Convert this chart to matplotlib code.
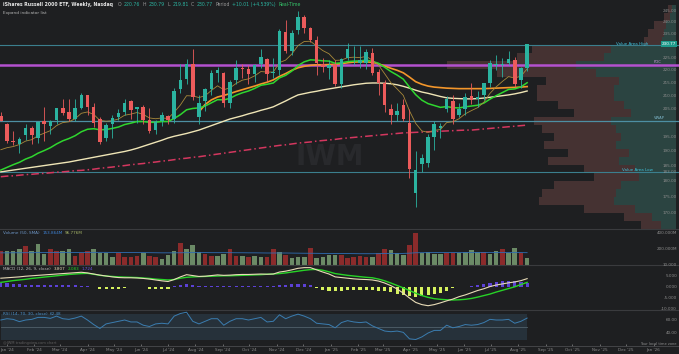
import matplotlib
matplotlib.use("Agg")
import matplotlib.pyplot as plt
import matplotlib.dates as mdates
from matplotlib.transforms import blended_transform_factory
import pandas as pd

W, H = 679, 354
BG = "#1e1f21"
UP = "#2bb3a0"
DOWN = "#ec5b5b"

# weekly candles, Dec 25 2023 .. Aug 11 2025
weeks = pd.date_range("2023-12-25", periods=86, freq="7D")

opens = [202.5, 199.5, 193.5, 192.5, 195.5, 198.0, 194.5, 200.5, 199.0, 201.0,
         205.3, 204.0, 201.5, 205.5, 210.3, 206.0, 201.5, 194.5, 199.5, 202.0,
         204.0, 208.0, 205.0, 206.0, 201.0, 197.5, 200.5, 202.5, 201.5, 212.5,
         216.5, 222.5, 202.0, 208.0, 212.5, 219.0, 219.0, 207.5, 216.0, 221.0,
         220.5, 218.5, 222.5, 224.5, 219.0, 220.0, 236.0, 228.0, 236.5, 242.5,
         237.5, 232.5, 222.5, 221.0, 222.5, 214.5, 225.0, 226.0, 223.0, 223.0,
         227.0, 219.5, 215.0, 205.0, 203.0, 206.5, 200.0, 176.0, 185.5, 186.0,
         195.0, 198.0, 205.0, 208.0, 203.0, 205.0, 210.0, 209.0, 210.5, 215.0,
         222.0, 222.0, 223.0, 224.0, 216.0, 220.76]
highs = [204.0, 200.0, 197.0, 195.0, 199.5, 199.0, 200.5, 206.0, 201.0, 205.5,
         209.0, 209.0, 209.0, 211.0, 210.5, 207.5, 202.0, 200.0, 203.0, 205.0,
         209.0, 208.5, 206.0, 206.5, 205.5, 201.0, 204.0, 203.0, 213.0, 222.5,
         224.5, 228.5, 210.5, 213.0, 220.0, 221.5, 219.5, 216.0, 224.0, 222.5,
         222.0, 222.5, 228.5, 225.0, 225.0, 237.0, 241.0, 236.5, 245.0, 243.0,
         238.0, 234.0, 225.0, 224.0, 224.0, 225.0, 231.0, 230.0, 230.0, 228.5,
         229.0, 220.5, 216.0, 207.0, 207.5, 209.0, 205.0, 190.0, 189.0, 196.0,
         200.5, 200.0, 210.0, 210.5, 207.5, 211.0, 215.0, 212.0, 215.0, 224.0,
         226.0, 225.0, 228.0, 225.5, 221.5, 230.79]
lows = [200.5, 192.8, 192.0, 189.5, 194.0, 192.5, 193.0, 193.5, 196.0, 199.5,
        203.0, 200.5, 200.5, 205.0, 203.0, 198.5, 192.5, 193.5, 194.5, 201.0,
        203.0, 201.5, 200.0, 199.5, 196.5, 196.0, 199.0, 199.5, 200.0, 211.0,
        214.5, 208.5, 199.5, 204.5, 210.5, 215.5, 206.0, 205.5, 214.5, 217.0,
        214.5, 215.5, 221.0, 215.5, 217.0, 218.0, 227.0, 226.0, 235.0, 235.5,
        231.5, 218.0, 219.5, 216.5, 214.0, 213.0, 224.0, 222.0, 221.0, 220.5,
        218.0, 210.5, 204.0, 199.5, 200.5, 200.5, 181.0, 171.7, 183.0, 184.5,
        190.5, 194.5, 204.0, 199.5, 202.0, 203.0, 207.0, 206.0, 208.5, 213.5,
        220.0, 217.5, 222.0, 213.5, 213.0, 219.81]
closes = [200.7, 193.5, 193.3, 194.4, 198.0, 195.5, 200.2, 199.5, 200.6, 205.3,
          203.7, 201.5, 205.5, 210.3, 205.8, 200.0, 193.3, 199.3, 201.7, 203.5,
          207.5, 204.7, 205.8, 201.0, 197.0, 200.4, 202.9, 201.0, 212.0, 216.2,
          222.4, 209.5, 207.5, 212.5, 219.0, 220.0, 207.3, 215.5, 220.9, 220.4,
          218.7, 222.0, 225.3, 218.4, 219.5, 236.2, 227.8, 235.5, 242.4, 237.5,
          232.5, 222.8, 221.5, 222.1, 214.5, 224.5, 228.5, 226.0, 224.3, 227.4,
          218.8, 215.0, 206.5, 203.0, 204.4, 201.3, 184.0, 183.6, 187.7, 195.0,
          199.6, 198.7, 209.0, 201.5, 205.1, 209.7, 208.5, 209.6, 214.8, 223.0,
          222.3, 222.7, 224.4, 214.5, 220.8, 230.77]

# moving averages
ma_fast = [190.5, 191.2, 191.6, 192.3, 193.5, 194.0, 195.4, 196.3, 197.2, 199.0,
           200.1, 200.4, 201.5, 203.5, 204.0, 203.1, 200.9, 200.6, 200.8, 201.4,
           202.8, 203.2, 203.8, 203.1, 201.8, 201.5, 201.8, 201.6, 203.9, 206.6,
           210.1, 210.0, 209.4, 210.1, 212.1, 213.9, 212.4, 213.1, 214.8, 216.1,
           216.6, 217.8, 219.5, 219.3, 219.3, 223.1, 224.1, 226.6, 230.1, 231.8,
           231.9, 229.9, 228.0, 226.7, 224.0, 224.1, 225.1, 225.3, 225.1, 225.6,
           224.1, 222.1, 218.6, 215.1, 212.7, 210.2, 204.4, 199.8, 197.1, 196.6,
           197.3, 197.6, 200.1, 200.4, 201.5, 203.3, 204.5, 205.6, 207.6, 211.0,
           213.5, 215.6, 217.5, 216.9, 217.7, 220.6]
ma_mid = [183.6, 184.5, 185.4, 186.2, 187.3, 188.1, 189.3, 190.2, 191.2, 192.5,
          193.6, 194.4, 195.4, 196.8, 197.7, 197.9, 197.5, 197.6, 198.0, 198.5,
          199.4, 199.9, 200.5, 200.5, 200.2, 200.2, 200.5, 200.5, 201.6, 203.0,
          204.8, 205.3, 205.5, 206.2, 207.4, 208.6, 208.5, 209.1, 210.3, 211.2,
          211.9, 212.9, 214.1, 214.5, 215.0, 217.0, 218.0, 219.7, 221.9, 223.4,
          224.2, 224.1, 223.8, 223.7, 222.8, 223.0, 223.5, 223.7, 223.8, 224.1,
          223.6, 222.8, 221.2, 219.5, 218.1, 216.5, 213.4, 210.5, 208.4, 207.1,
          206.4, 205.7, 206.0, 205.6, 205.5, 205.9, 206.2, 206.5, 207.3, 208.8,
          210.1, 211.3, 212.5, 212.7, 213.5, 215.1]
ma_slow = [183.0, 183.3, 183.6, 183.9, 184.2, 184.5, 184.8, 185.1, 185.4, 185.7,
           186.0, 186.3, 186.7, 187.1, 187.5, 187.9, 188.3, 188.7, 189.1, 189.5,
           189.9, 190.4, 191.0, 191.7, 192.4, 193.1, 193.8, 194.6, 195.2, 195.7,
           196.2, 196.8, 197.4, 198.2, 199.0, 199.8, 200.6, 201.4, 202.0, 202.6,
           203.3, 203.9, 204.6, 205.2, 205.9, 207.0, 208.1, 209.3, 210.4, 210.9,
           211.4, 211.8, 212.3, 212.7, 213.1, 213.5, 213.9, 214.3, 214.6, 214.9,
           215.0, 215.0, 214.9, 214.7, 214.3, 213.7, 213.0, 212.2, 211.5, 211.0,
           210.4, 209.8, 209.3, 209.1, 209.0, 208.9, 208.9, 209.0, 209.2, 209.5,
           209.8, 210.1, 210.4, 210.8, 211.3, 211.9]
ma_long = [181.4, 181.6, 181.7, 181.9, 182.1, 182.2, 182.4, 182.5, 182.7, 182.9,
           183.0, 183.2, 183.4, 183.5, 183.7, 183.9, 184.2, 184.4, 184.6, 184.9,
           185.1, 185.4, 185.6, 185.8, 186.1, 186.3, 186.6, 186.8, 187.1, 187.4,
           187.6, 187.9, 188.1, 188.4, 188.7, 189.0, 189.3, 189.6, 189.9, 190.2,
           190.5, 190.8, 191.1, 191.4, 191.7, 192.0, 192.2, 192.5, 192.8, 193.0,
           193.2, 193.5, 193.7, 193.9, 194.1, 194.4, 194.6, 194.8, 195.0, 195.2,
           195.4, 195.6, 195.8, 196.0, 196.2, 196.4, 196.5, 196.6, 196.7, 196.8,
           196.9, 197.0, 197.1, 197.2, 197.3, 197.4, 197.4, 197.6, 197.8, 198.0,
           198.2, 198.4, 198.6, 198.8, 199.0, 199.2]
avwap_start = "2024-08-05"
avwap = [204.0, 206.8, 208.5, 209.6, 210.2, 210.9, 211.7, 212.4, 213.1, 213.8,
         214.6, 215.3, 216.2, 217.6, 218.7, 220.0, 221.0, 221.6, 222.0, 222.2,
         222.2, 222.3, 222.4, 222.7, 223.0, 223.3, 223.4, 223.4, 223.2, 222.6,
         221.7, 220.8, 220.0, 219.0, 217.3, 215.5, 214.5, 213.8, 213.4, 213.2,
         213.0, 212.9, 212.8, 212.8, 212.8, 212.8, 212.8, 212.9, 213.0, 213.1,
         213.2, 213.3, 213.4, 213.6]

# volume profile (price bins, top to bottom) and up / down volume per bin
vp_edges = [247.7, 244.1, 240.6, 237.1, 233.7, 230.4, 227.0, 223.8, 220.5, 217.4,
            214.2, 211.2, 208.1, 205.1, 202.2, 199.2, 196.4, 193.6, 190.8, 188.0,
            185.3, 182.6, 180.0, 177.4, 174.9, 172.3, 169.9, 167.4, 165.0]
vp_up = [16, 24, 40, 50, 56, 260, 290, 400, 320, 230, 250, 250, 210, 180,
         260, 240, 220, 240, 190, 230, 165, 150, 220, 240, 250, 165, 95, 62]
vp_down = [16, 24, 48, 62, 72, 320, 350, 520, 400, 290, 310, 310, 262, 228,
           312, 300, 268, 288, 242, 282, 203, 178, 268, 300, 302, 203, 113, 78]
val_high, poc, vwap, val_low = 230.4, 222.1, 200.7, 183.0
price_ticks = [245, 240, 235, 225, 220, 215, 210, 205, 195, 190, 185, 180, 175, 170]

volume = [170, 170, 170, 194, 242, 170, 263, 133, 194, 170,
          170, 194, 113, 154, 170, 206, 145, 145, 101, 145,
          101, 101, 113, 154, 113, 101, 81, 120, 170, 275,
          206, 254, 162, 133, 113, 113, 137, 194, 113, 113,
          101, 113, 101, 101, 194, 162, 121, 93, 101, 101,
          214, 89, 101, 121, 121, 121, 89, 100, 113, 101,
          101, 145, 206, 182, 145, 121, 254, 396, 150, 162,
          133, 133, 150, 145, 145, 162, 182, 162, 162, 133,
          170, 206, 145, 214, 154, 93]
vol_dir = ("rggg rggg rrgg rrrg ggg rrrr grrg ggrg ggrr ggrr grgg rrgr gggr "
           "ggggr rrrr grrg ggrr gggg rrgg ggrg gr gg").replace(" ", "")
vol_sma = [152, 152, 153, 153, 154, 154, 155, 155, 155, 156,
           156, 156, 157, 157, 157, 158, 158, 158, 157, 157,
           156, 156, 155, 155, 154, 153, 152, 152, 152, 153,
           154, 155, 155, 155, 154, 154, 154, 154, 153, 153,
           152, 152, 151, 150, 150, 150, 150, 149, 148, 147,
           147, 146, 145, 145, 144, 144, 143, 142, 141, 141,
           141, 142, 143, 144, 144, 145, 148, 153, 154, 155,
           155, 156, 156, 156, 156, 157, 157, 157, 157, 157,
           157, 157, 156, 155, 155, 154]

macd = [4.0, 4.2, 4.4, 4.6, 4.9, 5.1, 5.3, 5.5, 5.7, 5.9,
        6.1, 6.3, 6.5, 6.7, 6.4, 5.9, 5.4, 5.0, 4.6, 4.3,
        4.2, 4.2, 4.1, 3.9, 3.6, 3.2, 2.8, 2.5, 3.4, 4.6,
        5.6, 5.2, 4.8, 4.9, 5.2, 5.5, 5.3, 5.4, 5.6, 5.7,
        5.7, 5.8, 5.9, 5.8, 5.9, 6.8, 7.2, 7.8, 8.5, 8.8,
        8.8, 7.8, 6.8, 5.9, 4.6, 4.3, 4.0, 3.7, 3.5, 3.4,
        3.2, 2.7, 1.8, 0.6, -0.9, -2.8, -5.0, -7.0, -8.0, -8.5,
        -8.0, -7.2, -6.3, -5.5, -4.4, -3.6, -2.6, -1.6, -0.8, 0.2,
        0.9, 1.4, 1.9, 2.3, 2.9, 3.8]
signal = [2.1, 2.5, 2.9, 3.2, 3.5, 3.9, 4.2, 4.5, 4.8, 5.1,
          5.4, 5.7, 5.9, 6.1, 6.2, 5.8, 5.3, 5.0, 4.8, 4.6,
          4.5, 4.4, 4.3, 4.1, 3.9, 3.6, 3.4, 3.2, 3.4, 4.0,
          4.4, 4.6, 4.7, 4.8, 4.9, 5.0, 5.1, 5.1, 5.2, 5.3,
          5.4, 5.5, 5.6, 5.8, 5.9, 6.1, 6.4, 6.8, 7.2, 7.6,
          7.9, 8.0, 7.6, 6.9, 6.1, 5.7, 5.3, 5.0, 4.7, 4.4,
          4.2, 3.6, 2.8, 1.8, 0.7, -0.4, -1.6, -2.8, -3.9, -4.7,
          -5.3, -5.6, -5.8, -5.9, -5.8, -5.6, -5.2, -4.6, -3.9, -3.2,
          -2.3, -1.5, -0.7, 0.1, 1.1, 2.1]
hist = [1.9, 1.7, 1.5, 1.3, 1.1, 1.0, 0.9, 0.9, 0.8, 0.8,
        0.8, 0.7, 0.7, 0.6, 0.3, -0.2, -0.8, -0.9, -1.0, -0.9,
        -0.3, -0.2, -0.2, -0.2, -0.8, -1.0, -1.0, -1.0, 0.3, 1.0,
        1.2, 0.8, 0.4, 0.4, 0.5, 0.6, 0.4, 0.4, 0.5, 0.5,
        0.4, 0.4, 0.5, 0.3, 0.3, 0.9, 1.0, 1.2, 1.3, 1.2,
        0.9, -0.6, -1.2, -1.6, -2.0, -1.6, -1.4, -1.4, -1.3, -1.2,
        -1.4, -1.6, -2.0, -2.4, -3.0, -3.6, -4.2, -4.5, -4.3, -3.8,
        -3.0, -2.6, -1.8, -0.4, -0.1, 0.1, 0.3, 1.0, 1.5, 1.8,
        2.2, 2.6, 2.8, 2.6, 2.5, 1.7]

rsi = [60, 62, 61, 57.5, 60, 61, 64, 64, 62.5, 66,
       62, 61, 63, 66, 60, 53, 47, 54, 56, 58,
       60, 57, 57, 52, 50, 54, 55, 54, 66, 70,
       72, 58, 54, 58, 62, 62, 52, 58, 62, 62,
       60, 62, 64, 57, 58, 68, 62, 66, 69, 66,
       62, 55, 54, 53, 48, 56, 59, 57, 56, 57,
       51, 47, 43, 42, 43, 41, 31, 30, 34, 40,
       44, 44, 52, 48, 50, 53, 52, 53, 56, 61,
       60, 60, 61, 55, 58, 63]

x_left = pd.Timestamp("2023-12-24 02:00")
x_right = pd.Timestamp("2026-01-29 16:00")

fig = plt.figure(figsize=(W / 100, H / 100), dpi=100, facecolor=BG)


def panel(top, bottom, sep=True):
    ax = fig.add_axes([0, 1 - bottom / H, 1, (bottom - top) / H])
    ax.set_facecolor(BG)
    for s in ax.spines.values():
        s.set_visible(False)
    if sep:
        ax.spines["top"].set_visible(True)
        ax.spines["top"].set_color("#3a3b3e")
        ax.spines["top"].set_linewidth(0.8)
    ax.set_xlim(x_left, x_right)
    ax.tick_params(left=False, labelleft=False, bottom=False, labelbottom=False)
    return ax


def right_label(ax, y, text, color="#8d8d8d", dx=2, size=3.0, **kw):
    tr = blended_transform_factory(ax.transAxes, ax.transData)
    return ax.text(1 - dx / W, y, text, transform=tr, ha="right", va="center",
                   fontsize=size, color=color, **kw)


def text_run(x, y, pieces, size=3.3, weight="normal", gap=2.5):
    r = fig.canvas.get_renderer()
    for s, c in pieces:
        t = fig.text(x / W, 1 - y / H, s, color=c, fontsize=size, va="center",
                     ha="left", fontweight=weight)
        x += t.get_window_extent(r).width + gap
    return x


# ---------- price panel ----------
ax_vp = panel(0, 229, sep=False)
ax_vp.set_yscale("log")
ax_vp.set_ylim(165.0, 249.9)
ax_vp.yaxis.set_minor_locator(matplotlib.ticker.NullLocator())
lo = vp_edges[1:]
hi = vp_edges[:-1]
heights = [h - l for h, l in zip(hi, lo)]
ax_vp.barh(lo, vp_up, height=heights, left=0, align="edge", color="#2b4441", linewidth=0)
ax_vp.barh(lo, vp_down, height=heights, left=vp_up, align="edge", color="#453232", linewidth=0)
ax_vp.set_xlim(max(u + d for u, d in zip(vp_up, vp_down)) * 2.95, -12)

ax = fig.add_axes(ax_vp.get_position())
ax.patch.set_alpha(0)
for s in ax.spines.values():
    s.set_visible(False)
ax.set_yscale("log")
ax.set_ylim(165.0, 249.9)
ax.set_xlim(x_left, x_right)
ax.yaxis.set_minor_locator(matplotlib.ticker.NullLocator())
ax.tick_params(left=False, labelleft=False, bottom=False, labelbottom=False)

ax.text(0.485, 188, "IWM", transform=blended_transform_factory(ax.transAxes, ax.transData),
        ha="center", va="center", fontsize=20, fontweight="bold", color="#28292c", zorder=0)

ax.axhline(val_high, color="#3b7f8e", lw=0.8, zorder=1)
ax.axhline(poc, color="#b451cf", lw=1.8, zorder=1)
ax.axhline(vwap, color="#4d8fa3", lw=0.9, zorder=1)
ax.axhline(val_low, color="#3b7f8e", lw=0.8, zorder=1)

ax.plot(weeks, ma_long, color="#d4375f", lw=1.1, dashes=(5, 2, 1, 2), zorder=2)
ax.plot(weeks, ma_slow, color="#efe5b6", lw=1.0, zorder=3)
ax.plot(weeks[weeks >= pd.Timestamp(avwap_start)], avwap, color="#f3962b", lw=1.2, zorder=3)
ax.plot(weeks, ma_mid, color="#2fd62f", lw=1.1, zorder=3)
ax.plot(weeks, ma_fast, color="#a8893a", lw=0.6, zorder=4)

colors = [UP if c >= o else DOWN for o, c in zip(opens, closes)]
body_lo = [min(o, c) for o, c in zip(opens, closes)]
body_h = [max(abs(c - o), 0.35) for o, c in zip(opens, closes)]
ax.vlines(weeks, lows, highs, colors=colors, lw=0.6, zorder=5)
ax.bar(weeks, body_h, bottom=body_lo, width=4.0, color=colors, linewidth=0, zorder=6)

for p in price_ticks:
    right_label(ax, p, f"{p:.2f}")
right_label(ax, closes[-1], f"{closes[-1]:.2f}", color="white", dx=3, size=3.0,
            bbox=dict(boxstyle="square,pad=0.25", fc="#1d9a8a", ec="none"))
right_label(ax, val_high + 0.3, "Value Area High", color="#3fc3dc", dx=31, size=2.9)
right_label(ax, poc + 1.2, "POC", color="#c79ad6", dx=18, size=2.7)
right_label(ax, vwap + 0.9, "VWAP", color="#7db6c9", dx=14, size=2.7)
right_label(ax, val_low + 0.6, "Value Area Low", color="#3fc3dc", dx=26, size=2.9)
right_label(ax, val_low, f"{val_low:.2f}")

# header
xh = text_run(3, 4.5, [("iShares Russell 2000 ETF, Weekly, Nasdaq", "#e6e6e6")],
              size=3.3, weight="bold")
text_run(xh + 2, 4.5, [("O", "#9a9a9a"), (f"{opens[-1]:.2f}", UP), ("H", "#9a9a9a"),
                       (f"{highs[-1]:.2f}", UP), ("L", "#9a9a9a"), (f"{lows[-1]:.2f}", UP),
                       ("C", "#9a9a9a"), (f"{closes[-1]:.2f}", UP), ("Period", "#9a9a9a"),
                       ("+10.01 (+4.539%)", UP), ("Real-Time", "#35c46a")], size=3.3)
text_run(3, 13, [("Expand indicator list", "#b5b5b5")], size=3.1)

# ---------- volume panel ----------
axv = panel(229, 265)
axv.set_ylim(0, 450)
vcol = ["#6b8a66" if d == "g" else "#8b2b2b" for d in vol_dir]
axv.bar(weeks, volume, width=5.2, color=vcol, linewidth=0)
axv.plot(weeks, vol_sma, color="#2e6db4", lw=0.6)
for v in (400, 200):
    right_label(axv, v, f"{v:.3f}M")
text_run(3, 233.5, [("Volume (50, SMA)", "#6e97c8"), ("153.864M", "#3f83d6"),
                    ("96.776M", "#a8b868")], size=3.0)

# ---------- MACD panel ----------
axm = panel(265, 310)
axm.set_ylim(-10.45, 10)
hcol = ["#5c41d6" if h >= 0 else "#d6f25e" for h in hist]
axm.bar(weeks, hist, width=3.5, color=hcol, linewidth=0)
axm.plot(weeks, signal, color="#27d327", lw=1.0)
axm.plot(weeks, macd, color="#e9dcb8", lw=0.8)
for v in (10, 5, 0, -5, -10):
    right_label(axm, v, f"{v:.3f}")
text_run(3, 268.5, [("MACD (12, 26, 9, close)", "#b8b8b8"), ("3.807", "#e9dcb8"),
                    ("2.083", "#27d327"), ("1.724", "#6d52e0")], size=3.0)

# ---------- RSI panel ----------
axr = panel(310, 346)
axr.set_ylim(20, 75.4)
axr.fill_between(weeks, 30, 70, color="#26313a", linewidth=0)
axr.plot([weeks[0], weeks[-1]], [50, 50], color="#51606a", lw=0.6)
axr.plot(weeks, rsi, color="#3b7db0", lw=0.7)
for v in (60, 40):
    right_label(axr, v, f"{v:.2f}")
text_run(3, 314, [("RSI (14, 70, 30, close)", "#4a8fc8"), ("62.48", "#4a8fc8")], size=3.0)
text_run(3, 343, [("@IWM tradingview.com chart", "#5e5e5e")], size=2.6)
right_label(axr, 23, "Your local time zone", color="#8d8d8d", size=2.6)

axr.spines["bottom"].set_visible(True)
axr.spines["bottom"].set_color("#4a4b4e")
axr.spines["bottom"].set_linewidth(0.6)
axr.xaxis.set_major_locator(mdates.MonthLocator())
axr.xaxis.set_major_formatter(mdates.DateFormatter("%b '%y"))
axr.tick_params(axis="x", bottom=True, labelbottom=True, labelsize=3.0, colors="#8a8a8a",
                length=1.5, width=0.5, pad=1.2, direction="in")

fig.savefig("out.png", dpi=100, facecolor=BG)
